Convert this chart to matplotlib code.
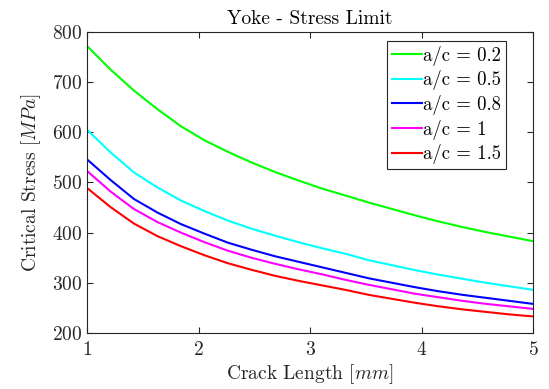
import numpy as np
import matplotlib
matplotlib.use('Agg')
import matplotlib.pyplot as plt

plt.rcParams['font.family'] = 'serif'
plt.rcParams['font.serif'] = ['cmr10']
plt.rcParams['mathtext.fontset'] = 'cm'
plt.rcParams['axes.formatter.use_mathtext'] = True

# crack length [mm], 20 points
crack = np.linspace(1, 5, 20)

s_02 = [772, 725, 683, 646, 612, 584, 561, 540, 521, 504,
        488, 474, 460, 447, 434, 422, 411, 401, 392, 383]
s_05 = [605, 560, 520, 490, 464, 443, 424, 408, 394, 381,
        369, 358, 345, 335, 325, 316, 308, 300, 293, 286]
s_08 = [546, 505, 467, 440, 417, 398, 380, 366, 353, 342,
        331, 320, 309, 300, 291, 283, 276, 270, 264, 258]
s_10 = [523, 482, 447, 421, 400, 381, 364, 350, 338, 327,
        317, 306, 296, 287, 278, 271, 264, 258, 253, 248]
s_15 = [489, 451, 418, 393, 373, 355, 339, 326, 314, 304,
        295, 286, 276, 268, 260, 253, 247, 242, 237, 233]

labels = ['a/c = 0.2', 'a/c = 0.5', 'a/c = 0.8', 'a/c = 1', 'a/c = 1.5']
colors = ['#00ff00', '#00ffff', '#0000ff', '#ff00ff', '#ff0000']
series = [s_02, s_05, s_08, s_10, s_15]

fig = plt.figure(figsize=(5.49, 3.89), dpi=100)
ax = fig.add_axes([0.1585, 0.144, 0.8124, 0.774])

for s, c, lab in zip(series, colors, labels):
    ax.plot(crack, s, color=c, lw=1.5, label=lab)

dark = '#262626'
ax.set_xlim(1, 5)
ax.set_ylim(200, 800)
ax.set_xticks([1, 2, 3, 4, 5])
ax.set_yticks([200, 300, 400, 500, 600, 700, 800])
ax.tick_params(direction='in', top=True, right=True, length=4,
               labelsize=14, colors=dark, width=0.8)
ax.tick_params(axis='x', pad=6)
for sp in ax.spines.values():
    sp.set_color(dark)
    sp.set_linewidth(0.8)

ax.set_title('Yoke - Stress Limit', fontsize=14, pad=6)
ax.set_xlabel('Crack Length $[mm]$', fontsize=14, color=dark, labelpad=2)
ax.set_ylabel('Critical Stress $[MPa]$', fontsize=14, color=dark, labelpad=6)

leg = ax.legend(loc='upper right', bbox_to_anchor=(0.94, 0.97),
                borderaxespad=0, fontsize=13.5, fancybox=False,
                framealpha=1, edgecolor=dark, handlelength=1.6,
                handletextpad=0.1, borderpad=0.25, labelspacing=0.25)
leg.get_frame().set_linewidth(0.8)

fig.savefig('out.png', dpi=100)
